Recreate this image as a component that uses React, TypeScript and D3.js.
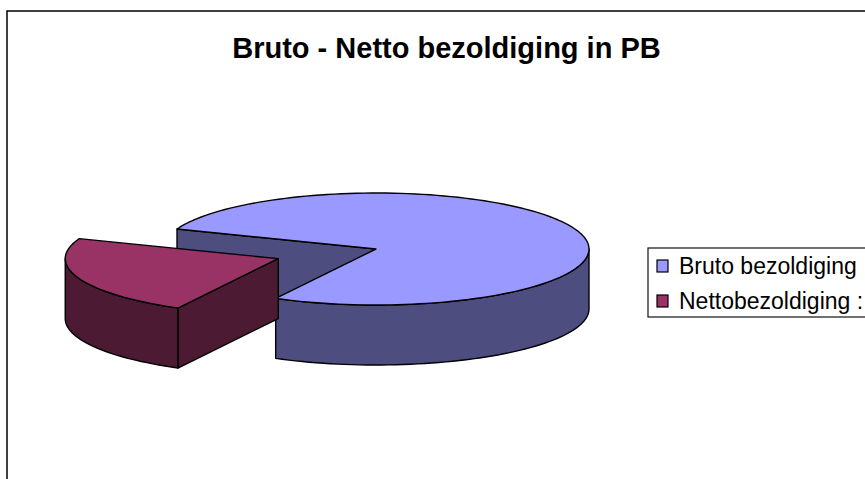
import React from "react";
import * as d3 from "d3";

const categories = ["Bruto bezoldiging", "Nettobezoldiging :"];
const values = [77, 23];
const topColors = ["#9999FF", "#993366"];
const sideColors = ["#4D4D80", "#4D1A33"];
const explode = [0, 0.49];
const title = "Bruto - Netto bezoldiging in PB";

const W = 865;
const H = 479;
const cx = 376;
const cy = 249;
const rx = 213;
const ry = 56;
const depth = 60;
const deg = Math.PI / 180;

type Pt = [number, number];

function proj(theta: number, r: number, z: number, off: Pt): Pt {
    return [off[0] + cx + rx * r * Math.cos(theta), off[1] + cy + ry * r * Math.sin(theta) + z];
}

function arcPts(a: number, b: number, z: number, off: Pt): Pt[] {
    const n = Math.max(2, Math.ceil(Math.abs(b - a) / (2 * deg)));
    return d3.range(n + 1).map((i) => proj(a + ((b - a) * i) / n, 1, z, off));
}

const closed = d3.line<Pt>().curve(d3.curveLinearClosed);

export default function App() {
    // d3 pie angles: 0 = 12 o'clock, clockwise; theta = angle - 90deg
    const start = 290.9 * deg;
    const arcs = d3.pie<number>().sort(null).startAngle(start).endAngle(start + 2 * Math.PI)(values);

    const slices = arcs.map((a, i) => {
        const t0 = a.startAngle - Math.PI / 2;
        const t1 = a.endAngle - Math.PI / 2;
        const mid = (t0 + t1) / 2;
        const e = explode[i];
        const off: Pt = [rx * e * Math.cos(mid), ry * e * Math.sin(mid)];
        const c0 = proj(0, 0, 0, off);
        const c1 = proj(0, 0, depth, off);
        const parts: { d: string; fill: string }[] = [];

        // radial faces facing the viewer
        if (Math.cos(t0) < 0) {
            parts.push({ d: closed([c0, proj(t0, 1, 0, off), proj(t0, 1, depth, off), c1])!, fill: sideColors[i] });
        }
        if (Math.cos(t1) > 0) {
            parts.push({ d: closed([c0, proj(t1, 1, 0, off), proj(t1, 1, depth, off), c1])!, fill: sideColors[i] });
        }
        // front outer walls
        [0, 2 * Math.PI].forEach((k) => {
            const a0 = Math.max(t0, k);
            const a1 = Math.min(t1, k + Math.PI);
            if (a1 > a0) {
                const pts = [...arcPts(a0, a1, 0, off), ...arcPts(a1, a0, depth, off)];
                parts.push({ d: closed(pts)!, fill: sideColors[i] });
            }
        });
        // top face
        parts.push({ d: closed([c0, ...arcPts(t0, t1, 0, off)])!, fill: topColors[i] });
        return parts;
    });

    const legendY = d3.scalePoint<string>().domain(categories).range([266, 301]);

    return (
        <svg width={W} height={H} style={{ position: "absolute", left: 0, top: 0, background: "#fff" }}>
            <rect x={7} y={11} width={W + 20} height={H + 20} fill="#fff" stroke="#111" strokeWidth={1.6} />
            <text
                x={446.5}
                y={58}
                textAnchor="middle"
                fontFamily="Arial, 'Liberation Sans', sans-serif"
                fontWeight="bold"
                fontSize={29}
            >
                {title}
            </text>
            <g stroke="#000" strokeWidth={1.4} strokeLinejoin="round">
                {slices.map((parts, i) =>
                    parts.map((p, j) => <path key={`${i}-${j}`} d={p.d} fill={p.fill} />)
                )}
            </g>
            <g fontFamily="Arial, 'Liberation Sans', sans-serif" fontSize={23}>
                <rect x={648} y={248} width={W} height={69} fill="#fff" stroke="#111" strokeWidth={1.2} />
                {categories.map((c, i) => (
                    <g key={c} transform={`translate(0,${legendY(c)})`}>
                        <rect x={657} y={-6} width={11} height={12} fill={topColors[i]} stroke="#000" strokeWidth={1.2} />
                        <text x={679} y={7.5}>
                            {c}
                        </text>
                    </g>
                ))}
            </g>
        </svg>
    );
}
